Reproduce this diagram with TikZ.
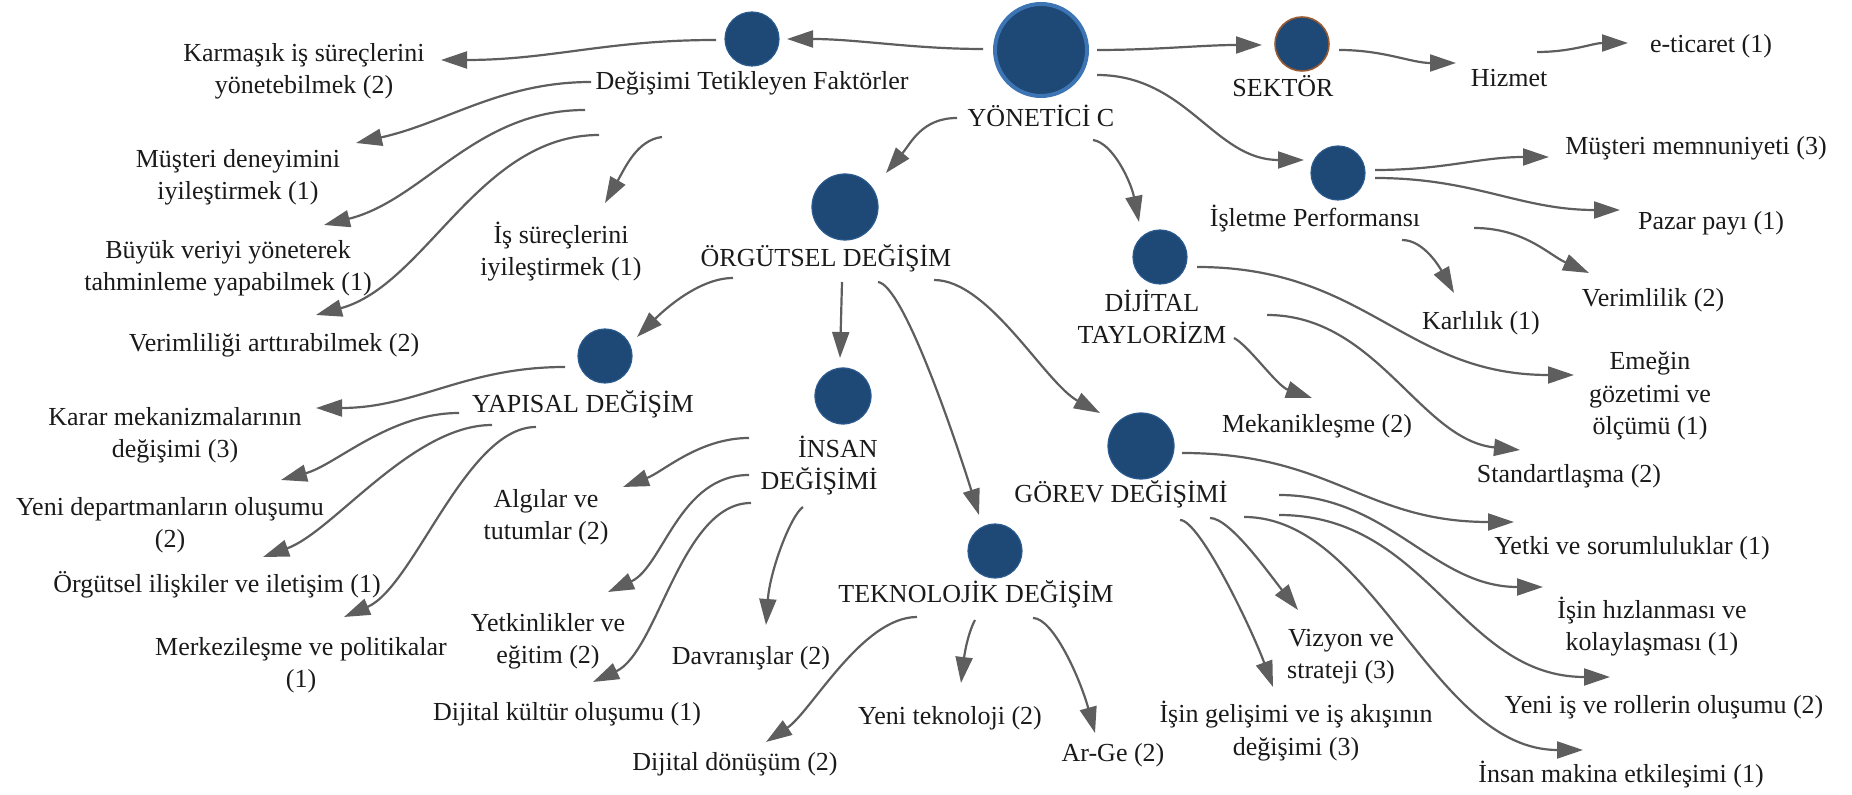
\documentclass[tikz,border=0pt]{standalone}
\usepackage{fontspec}
\setmainfont{Liberation Serif}
\usetikzlibrary{arrows.meta}
\definecolor{hubfill}{HTML}{1E4876}
\definecolor{hubedge}{HTML}{2A5A8E}
\definecolor{rootedge}{HTML}{3C74B4}
\definecolor{sectoredge}{HTML}{9A5A30}
\definecolor{linkgray}{HTML}{5E5E5E}
\definecolor{txt}{HTML}{1A1A1A}
% every label is placed at the baseline of its last line
\tikzset{
  lbl/.style={font=\fontsize{13pt}{16.25pt}\selectfont, inner sep=0pt, align=center, anchor=base, text=txt},
  hub/.style={circle, fill=hubfill, draw=hubedge, line width=0.6pt, inner sep=0pt, minimum size=#1},
  link/.style={draw=linkgray, line width=1.1pt, -{Triangle[length=13pt, width=8.5pt]}},
}
\begin{document}
\begin{tikzpicture}[x=0.5pt, y=-0.5pt]
\useasboundingbox (0,0) rectangle (1852,795);

% ---- hub circles ----
\node[hub=46pt, draw=rootedge, line width=2pt] (yonc) at (1041,50) {};
\node[hub=27pt] (dtfc) at (752,39) {};
\node[hub=33pt] (orgc) at (845,207) {};
\node[hub=27pt] (dijc) at (1160,257) {};
\node[hub=27pt, draw=sectoredge, line width=0.8pt] (sekc) at (1302,44) {};
\node[hub=27pt] (islc) at (1338,173) {};
\node[hub=27pt] (yapc) at (605,356) {};
\node[hub=28pt] (insc) at (843,396) {};
\node[hub=27pt] (tekc) at (995,551) {};
\node[hub=33pt] (gorc) at (1141,446) {};

% ---- hub labels ----
\node[lbl] (yonl) at (1041,127) {YÖNETİCİ C};
\node[lbl] (dtfl) at (752,90) {Değişimi Tetikleyen Faktörler};
\node[lbl] (orgl) at (826,267) {ÖRGÜTSEL DEĞİŞİM};
\node[lbl] (dijl) at (1152,344) {DİJİTAL\\TAYLORİZM};
\node[lbl] (sekl) at (1283,97) {SEKTÖR};
\node[lbl] (isll) at (1315,227) {İşletme Performansı};
\node[lbl] (yapl) at (583,413) {YAPISAL DEĞİŞİM};
\node[lbl, align=right, anchor=base east] (insl) at (878,490) {İNSAN\\DEĞİŞİMİ};
\node[lbl] (tekl) at (976,603) {TEKNOLOJİK DEĞİŞİM};
\node[lbl] (gorl) at (1121,503) {GÖREV DEĞİŞİMİ};

% ---- leaf labels ----
\node[lbl] (karm) at (304,94) {Karmaşık iş süreçlerini\\yönetebilmek (2)};
\node[lbl] (must) at (238,200) {Müşteri deneyimini\\iyileştirmek (1)};
\node[lbl] (buyuk) at (228,291) {Büyük veriyi yöneterek\\tahminleme yapabilmek (1)};
\node[lbl] (verarr) at (274,352) {Verimliliği arttırabilmek (2)};
\node[lbl] (issur) at (561,276) {İş süreçlerini\\iyileştirmek (1)};
\node[lbl] (hizmet) at (1509,87) {Hizmet};
\node[lbl] (etic) at (1711,53) {e-ticaret (1)};
\node[lbl] (mmem) at (1696,155) {Müşteri memnuniyeti (3)};
\node[lbl] (pazar) at (1711,230) {Pazar payı (1)};
\node[lbl] (karl) at (1481,330) {Karlılık (1)};
\node[lbl] (verim) at (1653,307) {Verimlilik (2)};
\node[lbl] (emeg) at (1650,435) {Emeğin\\gözetimi ve\\ölçümü (1)};
\node[lbl] (mekan) at (1317,433) {Mekanikleşme (2)};
\node[lbl] (stand) at (1569,483) {Standartlaşma (2)};
\node[lbl] (karar) at (175,458) {Karar mekanizmalarının\\değişimi (3)};
\node[lbl] (yenidep) at (170,548) {Yeni departmanların oluşumu\\(2)};
\node[lbl] (orgil) at (217,593) {Örgütsel ilişkiler ve iletişim (1)};
\node[lbl] (merk) at (301,688) {Merkezileşme ve politikalar\\(1)};
\node[lbl] (algi) at (546,540) {Algılar ve\\tutumlar (2)};
\node[lbl] (yetk) at (548,664) {Yetkinlikler ve\\eğitim (2)};
\node[lbl] (dijkul) at (567,720) {Dijital kültür oluşumu (1)};
\node[lbl] (davr) at (751,665) {Davranışlar (2)};
\node[lbl] (dijdon) at (735,770) {Dijital dönüşüm (2)};
\node[lbl] (yenitek) at (950,725) {Yeni teknoloji (2)};
\node[lbl] (arge) at (1113,762) {Ar-Ge (2)};
\node[lbl] (yetki) at (1632,555) {Yetki ve sorumluluklar (1)};
\node[lbl] (isinh) at (1652,651) {İşin hızlanması ve\\kolaylaşması (1)};
\node[lbl] (yeniis) at (1664,713) {Yeni iş ve rollerin oluşumu (2)};
\node[lbl] (insmak) at (1621,783) {İnsan makina etkileşimi (1)};
\node[lbl] (vizyon) at (1341,679) {Vizyon ve\\strateji (3)};
\node[lbl] (isging) at (1296,755) {İşin gelişimi ve iş akışının\\değişimi (3)};

% ---- connectors: root ----
\draw[link] ([shift={(-58,-1)}]yonc.center) .. controls +(-70,0) and +(70,0) .. ([shift={(35,0)}]dtfc.center);
\draw[link] ([shift={(56,0)}]yonc.center) .. controls +(60,0) and +(-60,0) .. ([shift={(-40,1)}]sekc.center);
\draw[link] ([shift={(56,25)}]yonc.center) .. controls +(90,0) and +(-90,0) .. ([shift={(-34,-13)}]islc.center);
\draw[link] ([shift={(-84,-9)}]yonl.base) .. controls +(-35,0) and +(25,-30) .. ([shift={(41,-34)}]orgc.center);
\draw[link] ([shift={(52,13)}]yonl.base) .. controls +(20,3) and +(-8,-40) .. ([shift={(-21,-35)}]dijc.center);

% ---- sector ----
\draw[link] ([shift={(37,6)}]sekc.center) .. controls +(45,0) and +(-45,0) .. ([shift={(-53,-24)}]hizmet.base);
\draw[link] ([shift={(28,-35)}]hizmet.base) .. controls +(35,0) and +(-35,0) .. ([shift={(-83,-10)}]etic.base);

% ---- triggering factors ----
\draw[link] ([shift={(-36,1)}]dtfc.center) .. controls +(-110,0) and +(110,0) .. ([shift={(137,-34)}]karm.base);
\draw[link] ([shift={(-161,-8)}]dtfl.base) .. controls +(-90,0) and +(90,-20) .. ([shift={(118,-57)}]must.base);
\draw[link] ([shift={(-167,20)}]dtfl.base) .. controls +(-110,0) and +(100,-25) .. ([shift={(96,-66)}]buyuk.base);
\draw[link] ([shift={(-153,45)}]dtfl.base) .. controls +(-120,0) and +(110,-30) .. ([shift={(42,-37)}]verarr.base);
\draw[link] ([shift={(-90,47)}]dtfl.base) .. controls +(-25,3) and +(20,-35) .. ([shift={(44,-73)}]issur.base);

% ---- business performance ----
\draw[link] ([shift={(37,-3)}]islc.center) .. controls +(70,0) and +(-70,0) .. ([shift={(-147,2)}]mmem.base);
\draw[link] ([shift={(37,5)}]islc.center) .. controls +(100,0) and +(-100,0) .. ([shift={(-91,-20)}]pazar.base);
\draw[link] ([shift={(87,13)}]isll.base) .. controls +(22,0) and +(-14,-25) .. ([shift={(-27,-37)}]karl.base);
\draw[link] ([shift={(159,1)}]isll.base) .. controls +(50,0) and +(-40,-18) .. ([shift={(-64,-34)}]verim.base);

% ---- digital taylorism ----
\draw[link] ([shift={(37,10)}]dijc.center) .. controls +(170,0) and +(-170,0) .. ([shift={(-76,-60)}]emeg.base);
\draw[link] ([shift={(82,-6)}]dijl.base) .. controls +(15,8) and +(-35,-12) .. ([shift={(-5,-35)}]mekan.base);
\draw[link] ([shift={(115,-29)}]dijl.base) .. controls +(110,0) and +(-100,-10) .. ([shift={(-49,-33)}]stand.base);

% ---- organisational change ----
\draw[link] ([shift={(-93,11)}]orgl.base) .. controls +(-35,0) and +(25,-25) .. ([shift={(32,-19)}]yapc.center);
\draw[link] ([shift={(16,15)}]orgl.base) -- ([shift={(-3,-38)}]insc.center);
\draw[link] ([shift={(52,15)}]orgl.base) .. controls +(25,3) and +(-25,-80) .. ([shift={(-16,-36)}]tekc.center);
\draw[link] ([shift={(108,13)}]orgl.base) .. controls +(55,0) and +(-55,-30) .. ([shift={(-41,-33)}]gorc.center);

% ---- structural change ----
\draw[link] ([shift={(-40,11)}]yapc.center) .. controls +(-100,0) and +(100,0) .. ([shift={(141,-50)}]karar.base);
\draw[link] ([shift={(-124,0)}]yapl.base) .. controls +(-70,0) and +(55,-15) .. ([shift={(111,-68)}]yenidep.base);
\draw[link] ([shift={(-91,12)}]yapl.base) .. controls +(-80,0) and +(70,-25) .. ([shift={(46,-36)}]orgil.base);
\draw[link] ([shift={(-47,14)}]yapl.base) .. controls +(-70,0) and +(70,-30) .. ([shift={(43,-71)}]merk.base);

% ---- human change ----
\draw[link] ([shift={(-129,-52)}]insl.base east) .. controls +(-50,0) and +(40,-15) .. ([shift={(77,-53)}]algi.base);
\draw[link] ([shift={(-129,-15)}]insl.base east) .. controls +(-70,0) and +(55,-25) .. ([shift={(60,-72)}]yetk.base);
\draw[link] ([shift={(-127,13)}]insl.base east) .. controls +(-70,0) and +(65,-30) .. ([shift={(26,-38)}]dijkul.base);
\draw[link] ([shift={(-75,17)}]insl.base east) .. controls +(-12,8) and +(4,-55) .. ([shift={(15,-40)}]davr.base);

% ---- technological change ----
\draw[link] ([shift={(-59,14)}]tekl.base) .. controls +(-55,0) and +(45,-30) .. ([shift={(31,-28)}]dijdon.base);
\draw[link] ([shift={(-1,17)}]tekl.base) .. controls +(-8,15) and +(3,-25) .. ([shift={(11,-42)}]yenitek.base);
\draw[link] ([shift={(57,15)}]tekl.base) .. controls +(20,0) and +(-15,-55) .. ([shift={(-18,-29)}]arge.base);

% ---- task change ----
\draw[link] ([shift={(41,7)}]gorc.center) .. controls +(150,0) and +(-150,0) .. ([shift={(-118,-33)}]yetki.base);
\draw[link] ([shift={(158,-8)}]gorl.base) .. controls +(110,0) and +(-110,0) .. ([shift={(-109,-64)}]isinh.base);
\draw[link] ([shift={(158,12)}]gorl.base) .. controls +(150,0) and +(-150,0) .. ([shift={(-54,-36)}]yeniis.base);
\draw[link] ([shift={(123,14)}]gorl.base) .. controls +(130,0) and +(-150,0) .. ([shift={(-38,-33)}]insmak.base);
\draw[link] ([shift={(89,15)}]gorl.base) .. controls +(20,0) and +(-28,-35) .. ([shift={(-43,-69)}]vizyon.base);
\draw[link] ([shift={(59,17)}]gorl.base) .. controls +(20,0) and +(-20,-55) .. ([shift={(-23,-68)}]isging.base);
\end{tikzpicture}
\end{document}
